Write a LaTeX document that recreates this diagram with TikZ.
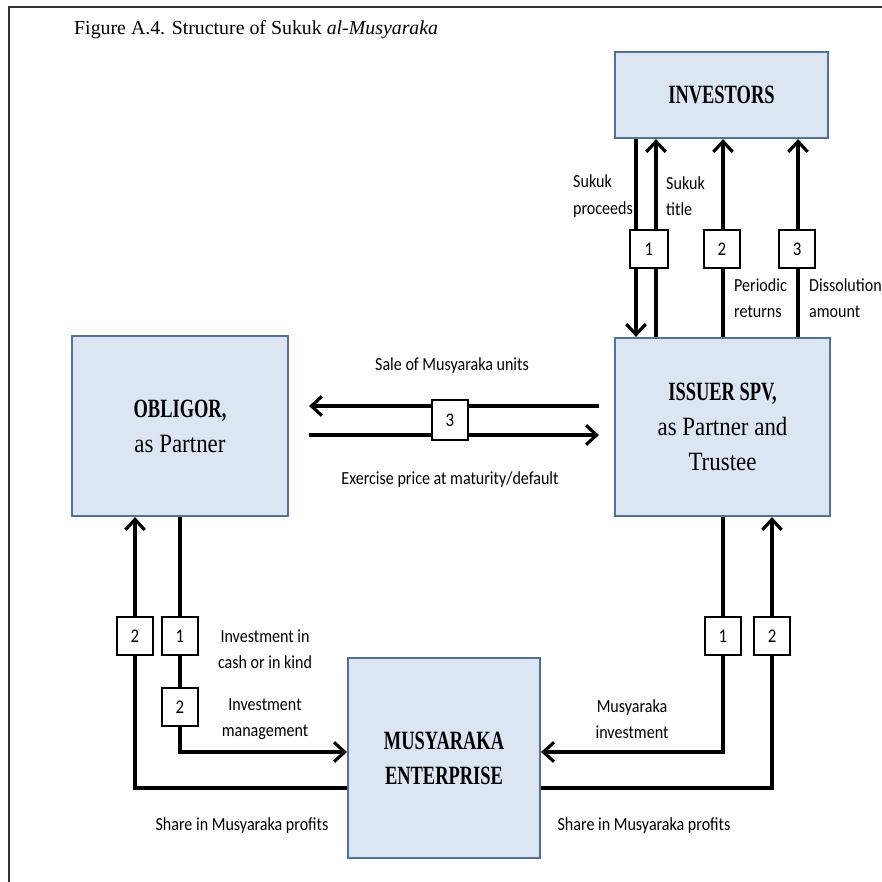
\documentclass[tikz,border=0pt]{standalone}
\usepackage{fontspec}
\usepackage{tikz}
\usetikzlibrary{arrows.meta}
\setmainfont{Liberation Serif}
\newfontfamily\boxrm{Liberation Serif}[FakeStretch=0.87]
\newfontfamily\boxbf{Liberation Serif}[FakeStretch=0.70]
\newfontfamily\lblfont{Carlito}[FakeStretch=0.87]
\definecolor{boxfill}{RGB}{220,230,242}
\definecolor{boxline}{RGB}{84,113,153}
\begin{document}
\begin{tikzpicture}[x=0.02cm,y=-0.02cm,
    party/.style={draw=boxline,fill=boxfill,line width=1.2pt,align=center,inner sep=0pt,
        font=\boxrm\fontsize{15}{20}\selectfont},
    tag/.style={draw,fill=white,line width=1.3pt,minimum width=0.72cm,minimum height=0.76cm,
        inner sep=0pt,font=\lblfont\fontsize{11}{13}\selectfont},
    flow/.style={line width=1.8pt,-{Straight Barb[length=6pt,width=11pt]}},
    lbl/.style={font=\lblfont\fontsize{10.5}{15}\selectfont,align=center}]
    \useasboundingbox (0,0) rectangle (882,882);
    \draw[line width=1.2pt,black!80] (9,882) -- (9,7) -- (882,7);
    \node[anchor=base west,font=\fontsize{11.3}{13}\selectfont] (title) at (68,35)
        {Figure A.4. Structure of Sukuk \textit{al-Musyaraka}};

    % parties
    \node[party,minimum width=4.26cm,minimum height=1.72cm] (inv) at (721.5,95)
        {\boxbf\bfseries INVESTORS};
    \node[party,minimum width=4.3cm,minimum height=3.56cm] (iss) at (722.5,427)
        {{\boxbf\bfseries ISSUER SPV,}\\as Partner and\\Trustee};
    \node[party,minimum width=4.32cm,minimum height=3.6cm] (obl) at (180,426)
        {{\boxbf\bfseries OBLIGOR,}\\as Partner};
    \node[party,minimum width=3.84cm,minimum height=4cm] (ent) at (444,758)
        {\boxbf\bfseries MUSYARAKA\\\boxbf\bfseries ENTERPRISE};

    % columns and rows of the flows
    \coordinate (c1) at (636,0);
    \coordinate (c2) at (656,0);
    \coordinate (c3) at (723,0);
    \coordinate (c4) at (798,0);
    \coordinate (c5) at (135,0);
    \coordinate (c6) at (180,0);
    \coordinate (c8) at (772,0);
    \coordinate (r1) at (0,406);
    \coordinate (r2) at (0,435);
    \coordinate (r3) at (0,752);
    \coordinate (r4) at (0,788);

    % investors <-> issuer
    \draw[flow] (inv.south -| c1) -- (iss.north -| c1);
    \draw[flow] (iss.north -| c2) -- (inv.south -| c2);
    \draw[flow] (iss.north -| c3) -- (inv.south -| c3);
    \draw[flow] (iss.north -| c4) -- (inv.south -| c4);
    \node[tag,minimum width=0.76cm] (t1) at (649,249) {1};
    \node[tag] (t2) at (722,249) {2};
    \node[tag] (t3) at (797,249) {3};
    \node[lbl,align=left,anchor=west] (lsp) at (567,196) {Sukuk\\proceeds};
    \node[lbl,align=left,anchor=west] (lst) at (660,196) {Sukuk\\title};
    \node[lbl,align=left,anchor=west] (lpr) at (728,298) {Periodic\\returns};
    \node[lbl,align=left,anchor=west] (lda) at (803,298) {Dissolution\\amount};

    % obligor <-> issuer
    \draw[flow,shorten <=0.3cm,shorten >=0.4cm] (iss.west |- r1) -- (obl.east |- r1);
    \draw[flow,shorten <=0.4cm,shorten >=0.3cm] (obl.east |- r2) -- (iss.west |- r2);
    \node[tag,minimum height=0.8cm] (t4) at (450,420) {3};
    \node[lbl] (lsale) at (452,366) {Sale of Musyaraka units};
    \node[lbl] (lex) at (450,480) {Exercise price at maturity/default};

    % obligor <-> enterprise
    \draw[flow] (ent.west |- r4) -| (obl.south -| c5);
    \draw[flow] (obl.south -| c6) |- (ent.west |- r3);
    \node[tag] (t5) at (135,636) {2};
    \node[tag] (t6) at (180,636) {1};
    \node[tag] (t7) at (180,707) {2};
    \node[lbl] (lic) at (265,649) {Investment in\\cash or in kind};
    \node[lbl] (lim) at (265,719) {Investment\\management};
    \node[lbl] (lsh1) at (242,826) {Share in Musyaraka profits};

    % issuer <-> enterprise
    \draw[flow] (iss.south -| c3) |- (ent.east |- r3);
    \draw[flow] (ent.east |- r4) -| (iss.south -| c8);
    \node[tag] (t8) at (723,636) {1};
    \node[tag] (t9) at (772,636) {2};
    \node[lbl] (lmi) at (632,719) {Musyaraka\\investment};
    \node[lbl] (lsh2) at (644,826) {Share in Musyaraka profits};
\end{tikzpicture}
\end{document}
